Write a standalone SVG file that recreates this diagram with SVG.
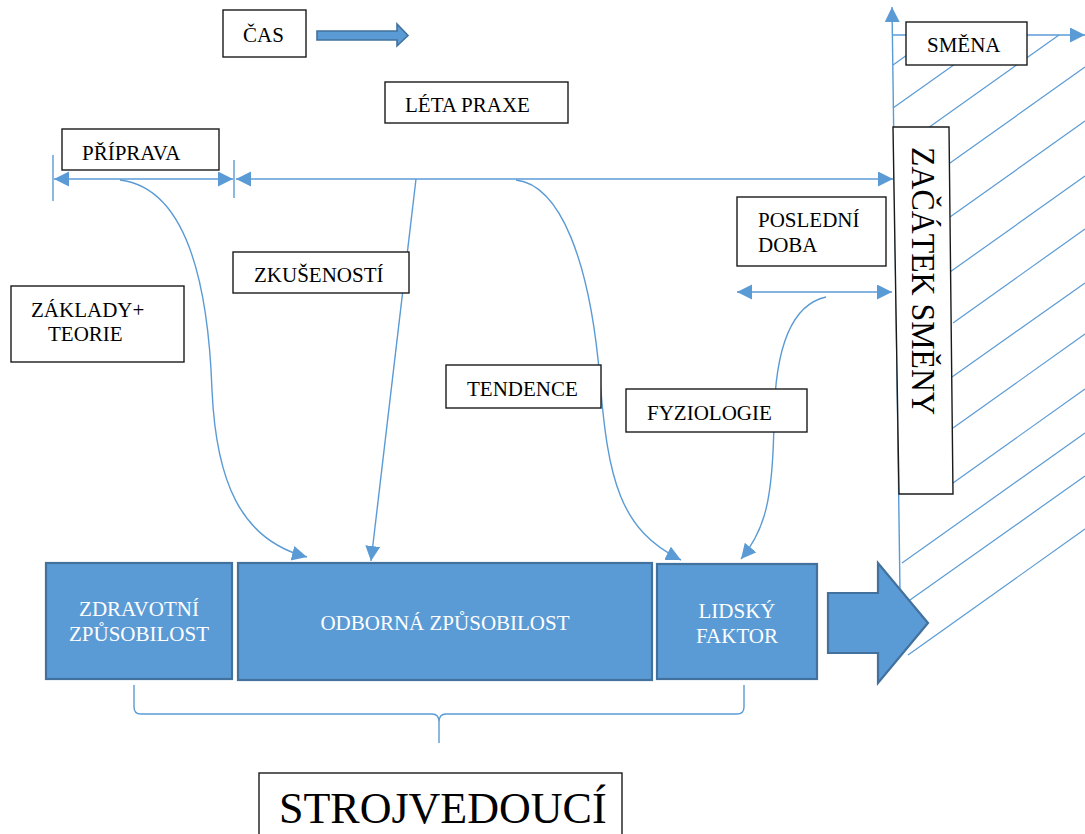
<svg xmlns="http://www.w3.org/2000/svg" width="1085" height="834" viewBox="0 0 1085 834">
<style>
.lbl{font-family:"Liberation Serif","Times New Roman",serif;font-size:21px;fill:#000}
.wl{font-family:"Liberation Serif","Times New Roman",serif;font-size:21px;fill:#fff;text-anchor:middle}
.box{fill:#fff;stroke:#1a1a1a;stroke-width:1.4}
.blue{fill:#5B9BD5;stroke:#41719C;stroke-width:2.2}
.ln{fill:none;stroke:#5B9BD5;stroke-width:1.4}
.hatch{stroke:#5B9BD5;stroke-width:1.2}
</style>
<defs>
<marker id="ah" markerUnits="userSpaceOnUse" markerWidth="16" markerHeight="16" refX="15" refY="7.5" orient="auto-start-reverse" viewBox="0 0 16 16">
<path d="M0,0 L15,7.5 L0,15 z" fill="#5B9BD5"/>
</marker>
</defs>
<rect width="1085" height="834" fill="#fff"/>

<g id="hatching">
<line class="hatch" x1="893" y1="65" x2="935" y2="35"/>
<line class="hatch" x1="893" y1="108" x2="996" y2="35"/>
<line class="hatch" x1="928" y1="128" x2="1059" y2="35"/>
<line class="hatch" x1="950" y1="163" x2="1085" y2="67"/>
<line class="hatch" x1="950" y1="217" x2="1085" y2="121"/>
<line class="hatch" x1="950" y1="272" x2="1085" y2="176"/>
<line class="hatch" x1="953" y1="323" x2="1085" y2="229"/>
<line class="hatch" x1="952" y1="377" x2="1085" y2="283"/>
<line class="hatch" x1="953" y1="428" x2="1085" y2="334"/>
<line class="hatch" x1="953" y1="483" x2="1085" y2="389"/>
<line class="hatch" x1="902" y1="563" x2="1085" y2="433"/>
<line class="hatch" x1="910" y1="600" x2="1085" y2="476"/>
<line class="hatch" x1="908" y1="655" x2="1085" y2="529"/>
</g>

<g id="connectors">
<line class="ln" x1="53" y1="155" x2="53" y2="201"/>
<line class="ln" x1="234" y1="160" x2="234" y2="198"/>
<line class="ln" x1="54" y1="179" x2="233" y2="179" marker-start="url(#ah)" marker-end="url(#ah)"/>
<line class="ln" x1="236" y1="179" x2="893" y2="179" marker-start="url(#ah)" marker-end="url(#ah)"/>
<line class="ln" x1="900" y1="592" x2="892" y2="7" marker-end="url(#ah)"/>
<line class="ln" x1="892" y1="35" x2="1085" y2="35" marker-end="url(#ah)"/>
<line class="ln" x1="737" y1="292" x2="892" y2="292" marker-start="url(#ah)" marker-end="url(#ah)"/>
<path class="ln" d="M120,180 C185,188 208,280 212,390 C216,480 240,540 307,557" marker-end="url(#ah)"/>
<path class="ln" d="M416,179 L371,561" marker-end="url(#ah)"/>
<path class="ln" d="M516,180 C560,185 590,260 600,380 C608,480 620,530 681,560" marker-end="url(#ah)"/>
<path class="ln" d="M826,297 C790,305 775,350 774,420 C773,500 765,530 741,559" marker-end="url(#ah)"/>
<path class="ln" d="M134,685 L134,707 Q134,714 141,714 L432,714 Q439,714 439,722 L439,743 L439,722 Q439,714 446,714 L737,714 Q744,714 744,707 L744,685"/>
<polygon points="317,31 397,31 397,24 408,35.5 397,46 397,40 317,40" fill="#5B9BD5" stroke="#41719C" stroke-width="1.6"/>
</g>

<g id="cas">
<rect class="box" x="223" y="10" width="83" height="47"/>
<text class="lbl" x="243" y="42">ČAS</text>
</g>
<g id="leta-praxe">
<rect class="box" x="385" y="82" width="183" height="41"/>
<text class="lbl" x="405" y="112">LÉTA PRAXE</text>
</g>
<g id="priprava">
<rect class="box" x="62" y="129" width="157" height="41"/>
<text class="lbl" x="82" y="160">PŘÍPRAVA</text>
</g>
<g id="zkusenosti">
<rect class="box" x="233" y="252" width="176" height="41"/>
<text class="lbl" x="254" y="282">ZKUŠENOSTÍ</text>
</g>
<g id="zaklady">
<rect class="box" x="11" y="286" width="173" height="76"/>
<text class="lbl" x="31" y="317">ZÁKLADY+</text>
<text class="lbl" x="48" y="341">TEORIE</text>
</g>
<g id="tendence">
<rect class="box" x="446" y="365" width="155" height="43"/>
<text class="lbl" x="467" y="396">TENDENCE</text>
</g>
<g id="fyziologie">
<rect class="box" x="626" y="389" width="181" height="43"/>
<text class="lbl" x="647" y="420">FYZIOLOGIE</text>
</g>
<g id="posledni-doba">
<rect class="box" x="737" y="197" width="149" height="69"/>
<text class="lbl" x="758" y="227">POSLEDNÍ</text>
<text class="lbl" x="758" y="252">DOBA</text>
</g>
<g id="smena">
<rect class="box" x="906" y="22" width="121" height="43"/>
<text class="lbl" x="927" y="52">SMĚNA</text>
</g>
<g id="zacatek-smeny">
<polygon class="box" points="893,127 949,127 953,494 899,494"/>
<text class="lbl" transform="translate(912,147) rotate(90)" style="font-size:33px" textLength="268" lengthAdjust="spacingAndGlyphs">ZAČÁTEK SMĚNY</text>
</g>

<g id="zdravotni">
<rect class="blue" x="46" y="563" width="186" height="116"/>
<text class="wl" x="139" y="616">ZDRAVOTNÍ</text>
<text class="wl" x="139" y="641">ZPŮSOBILOST</text>
</g>
<g id="odborna">
<rect class="blue" x="238" y="563" width="414" height="117"/>
<text class="wl" x="445" y="630">ODBORNÁ ZPŮSOBILOST</text>
</g>
<g id="lidsky-faktor">
<rect class="blue" x="657" y="564" width="160" height="115"/>
<text class="wl" x="737" y="618">LIDSKÝ</text>
<text class="wl" x="737" y="643">FAKTOR</text>
</g>
<g id="big-arrow">
<polygon class="blue" points="828,593 878,593 878,563 928,623 878,683 878,653 828,653"/>
</g>
<g id="strojvedouci">
<rect class="box" x="259" y="773" width="363" height="64"/>
<text class="lbl" x="279" y="823" style="font-size:44px">STROJVEDOUCÍ</text>
</g>
</svg>
